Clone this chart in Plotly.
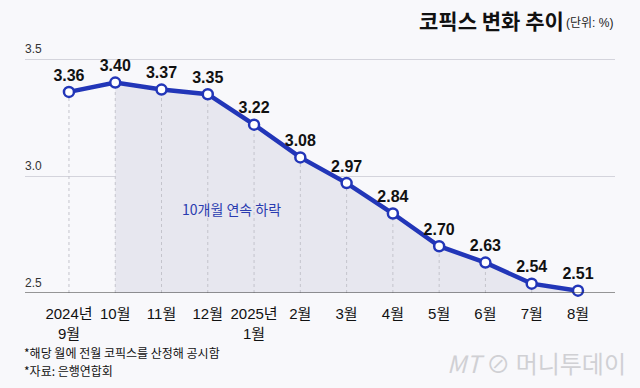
import plotly.graph_objects as go

categories = ["2024년<br>9월", "10월", "11월", "12월", "2025년<br>1월", "2월", "3월", "4월", "5월", "6월", "7월", "8월"]
values = [3.36, 3.40, 3.37, 3.35, 3.22, 3.08, 2.97, 2.84, 2.70, 2.63, 2.54, 2.51]
y_ticks = [2.5, 3.0, 3.5]
y_tick_labels = ["2.5", "3.0", "3.5"]
title = "코픽스 변화 추이"
unit = "(단위: %)"
note_text = "10개월 연속 하락"
footnotes = ["*해당 월에 전월 코픽스를 산정해 공시함", "*자료: 은행연합회"]

BG = "#f8f8fb"
BLUE = "#2236b8"
NUM_FONT = "Liberation Sans Narrow, Liberation Sans, Noto Sans CJK KR"
KR_FONT = "Noto Sans CJK KR, Noto Sans"

W, H = 640, 388
L, R, T, B = 25, 25, 58, 95
PW, PH = W - L - R, H - T - B


def px(x):
    return (x - L) / PW


def py(y):
    return (H - B - y) / PH


xs = list(range(len(values)))

fig = go.Figure()

# shaded area from 10월 onward
fig.add_trace(go.Scatter(
    x=xs[1:], y=values[1:], mode="lines", line=dict(width=0),
    fill="tozeroy", fillcolor="#e7e7ef", hoverinfo="skip", showlegend=False))

# dotted drop lines (drawn above the fill, below the main line)
drop_x, drop_y = [], []
for xi, v in zip(xs, values):
    drop_x += [xi, xi, None]
    drop_y += [y_ticks[0], v, None]
fig.add_trace(go.Scatter(
    x=drop_x, y=drop_y, mode="lines", line=dict(color="#c4c4cc", width=1, dash="dot"),
    hoverinfo="skip", showlegend=False))

fig.add_trace(go.Scatter(
    x=xs, y=values, mode="lines+markers+text",
    line=dict(color=BLUE, width=4.5),
    marker=dict(size=10, color="white", line=dict(color=BLUE, width=2.5)),
    text=[f"{v:.2f}" for v in values], textposition="top center",
    textfont=dict(family=NUM_FONT, size=16, color="#111111", weight="bold"),
    cliponaxis=False, showlegend=False))

fig.add_annotation(x=3.52, y=2.86, xref="x", yref="y", text=note_text, showarrow=False,
                   font=dict(family=KR_FONT, size=14, color="#2a3cb0"))

fig.update_layout(
    width=W, height=H,
    margin=dict(l=L, r=R, t=T, b=B, autoexpand=False),
    paper_bgcolor=BG, plot_bgcolor=BG,
    xaxis=dict(range=[-0.95, 11.8], tickvals=xs, ticktext=categories, showgrid=False,
               zeroline=False, showline=False, ticks="", ticklabelstandoff=10, automargin=False,
               tickfont=dict(family=NUM_FONT + ", " + KR_FONT, size=15, color="#111111")),
    yaxis=dict(range=[2.5, 3.505], tickvals=y_ticks, showticklabels=False, automargin=False,
               showgrid=True, gridcolor="#d4d4dc", gridwidth=1, zeroline=False, ticks=""),
    font=dict(family=KR_FONT),
)

for v, lab in zip(y_ticks, y_tick_labels):
    fig.add_annotation(xref="paper", yref="y", x=0, y=v, text=lab, showarrow=False,
                       xanchor="left", yanchor="bottom", yshift=1, xshift=-2,
                       font=dict(family=NUM_FONT, size=12, color="#333333"))

fig.add_shape(type="line", xref="paper", yref="y", x0=0, x1=1, y0=2.5, y1=2.5,
              line=dict(color="#333333", width=1.2))

fig.add_annotation(xref="paper", yref="paper", x=px(566), y=py(20),
                   xanchor="right", yanchor="middle", showarrow=False,
                   text=f"<b>{title}</b>", font=dict(family=KR_FONT, size=21, color="#111111"))
fig.add_annotation(xref="paper", yref="paper", x=px(615), y=py(23),
                   xanchor="right", yanchor="middle", showarrow=False,
                   text=unit, font=dict(family=NUM_FONT + ", " + KR_FONT, size=12, color="#222222"))

for i, t in enumerate(footnotes):
    fig.add_annotation(xref="paper", yref="paper", x=px(22), y=py(352 + 18 * i),
                       xanchor="left", yanchor="middle", showarrow=False,
                       text=t, font=dict(family=KR_FONT, size=12, color="#111111"))

fig.add_annotation(xref="paper", yref="paper", x=px(628), y=py(362),
                   xanchor="right", yanchor="middle", showarrow=False,
                   text="<i>MT</i> ⊘ 머니투데이",
                   font=dict(family=KR_FONT, size=24, color="#d0d0d4"))

fig.write_html("out.html", config={"displayModeBar": False},
               post_script="document.body.style.margin='0';document.body.style.background='" + BG + "';")
